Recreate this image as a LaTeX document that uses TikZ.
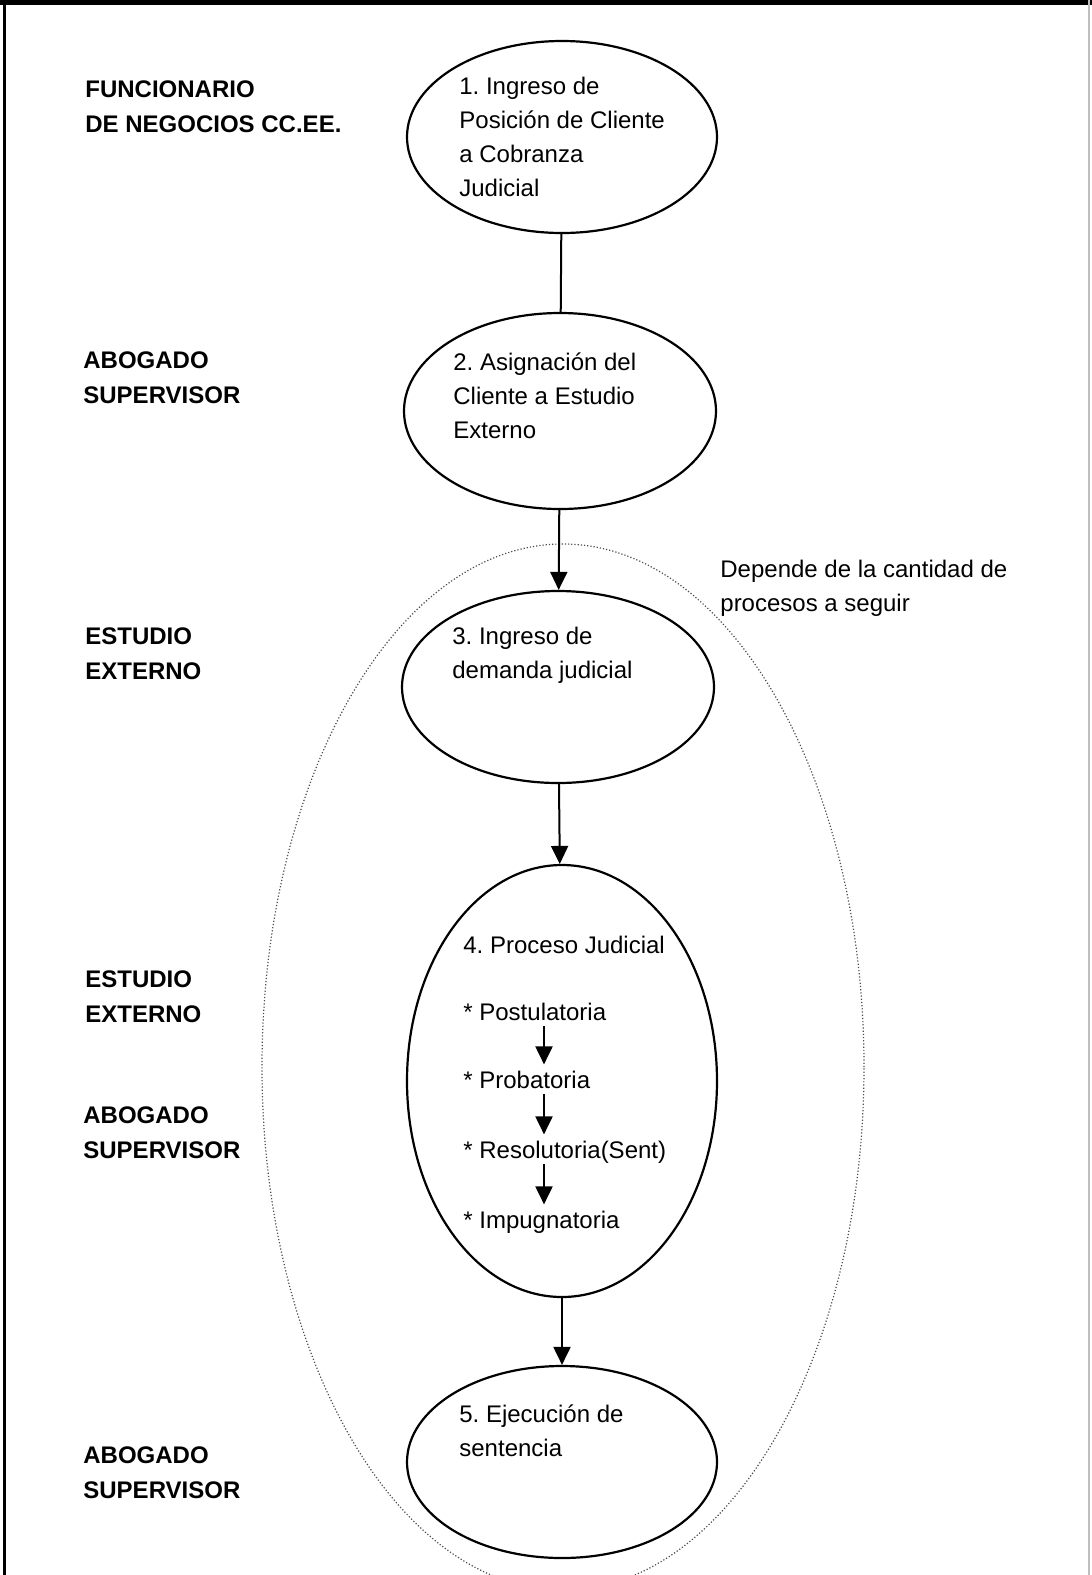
\documentclass[tikz,border=0pt]{standalone}
\usepackage{fontspec}
\setmainfont{Liberation Sans}
\frenchspacing
\usetikzlibrary{shapes.geometric, arrows.meta}

\begin{document}
\begin{tikzpicture}[x=0.5pt, y=-0.5pt,
	paso/.style={draw, ellipse, line width=1.1pt, inner sep=0pt, minimum width=155pt, minimum height=96pt},
	grupo/.style={draw=black!70, ellipse, densely dotted, line width=0.6pt, inner sep=0pt},
	texto/.style={anchor=base west, inner sep=0pt, align=left, font=\fontsize{12}{17}\selectfont},
	actor/.style={texto, font=\fontsize{12}{17.5}\selectfont\bfseries},
	etapa/.style={anchor=base west, inner xsep=0pt, inner ysep=3pt, text height=8.6pt, text depth=0pt, font=\fontsize{12}{17}\selectfont},
	flecha/.style={line width=1pt, -{Triangle[length=9pt, width=8.5pt]}}]
	\useasboundingbox (0, 0) rectangle (1092, 1575);
	\clip (0, 0) rectangle (1092, 1575);

	% frame
	\draw[line width=2.5pt] (0, 2.5) -- (1092, 2.5);
	\draw[line width=1.5pt] (4, 0) -- (4, 1575);
	\draw[line width=1pt, black!25] (1089, 0) -- (1089, 1575);

	% dotted group round steps 3 to 5
	\node[grupo, minimum width=301pt, minimum height=523pt] (grupo) at (563, 1067) {};

	% steps (text nodes sit on the baseline of their last line)
	\node[paso] (e1) at (562, 137) {};
	\node[paso, minimum width=156pt, minimum height=98pt] (e2) at (560, 411) {};
	\node[paso, minimum width=156pt] (e3) at (558, 687) {};
	\node[paso, minimum height=216pt] (e4) at (562, 1081) {};
	\node[paso] (e5) at (562, 1462) {};

	\node[texto] (t1) at (459, 196) {1. Ingreso de\\Posición de Cliente\\a Cobranza\\Judicial};
	\node[texto] (t2) at (453, 438) {2. Asignación del\\Cliente a Estudio\\Externo};
	\node[texto] (t3) at (452, 678) {3. Ingreso de\\demanda judicial};
	\node[texto] (t4) at (463, 953) {4. Proceso Judicial};
	\node[etapa] (post) at (463, 1020) {* Postulatoria};
	\node[etapa] (prob) at (463, 1088) {* Probatoria};
	\node[etapa] (reso) at (463, 1158) {* Resolutoria(Sent)};
	\node[etapa] (impu) at (463, 1228) {* Impugnatoria};
	\node[texto] (t5) at (459, 1456) {5. Ejecución de\\sentencia};

	\node[texto] (nota) at (720, 611) {Depende de la cantidad de\\procesos a seguir};

	% actors
	\node[actor] (a1) at (85, 132) {FUNCIONARIO\\DE NEGOCIOS CC.EE.};
	\node[actor] (a2) at (83, 403) {ABOGADO\\SUPERVISOR};
	\node[actor] (a3) at (85, 679) {ESTUDIO\\EXTERNO};
	\node[actor] (a4) at (85, 1022) {ESTUDIO\\EXTERNO};
	\node[actor] (a5) at (83, 1158) {ABOGADO\\SUPERVISOR};
	\node[actor] (a6) at (83, 1498) {ABOGADO\\SUPERVISOR};

	% connectors
	\draw[line width=1pt] (e1) -- (e2);
	\draw[flecha] (e2) -- (e3);
	\draw[flecha] (e3) -- (e4);
	\draw[flecha] (e4) -- (e5);
	\draw[flecha] ([xshift=40.5pt]post.south west) -- ([xshift=40.5pt]prob.north west);
	\draw[flecha] ([xshift=40.5pt]prob.south west) -- ([xshift=40.5pt]reso.north west);
	\draw[flecha] ([xshift=40.5pt]reso.south west) -- ([xshift=40.5pt]impu.north west);
\end{tikzpicture}
\end{document}
